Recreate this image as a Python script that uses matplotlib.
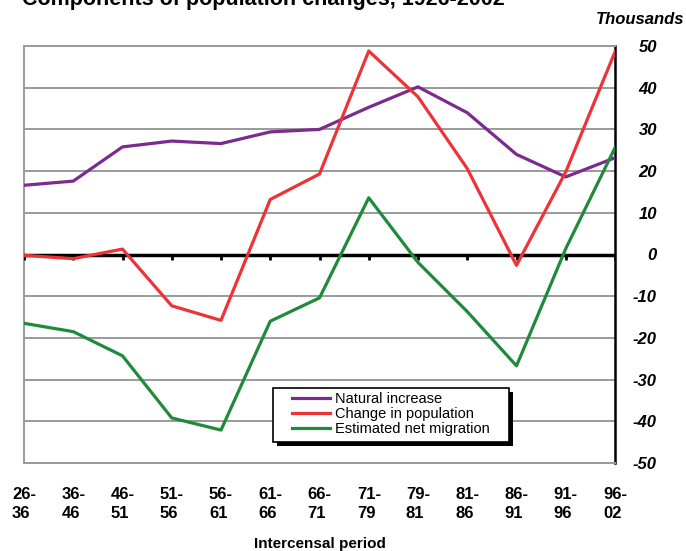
import matplotlib
matplotlib.use("Agg")
import matplotlib.pyplot as plt
from matplotlib.patches import Rectangle

plt.rcParams['font.family'] = ['Liberation Sans', 'DejaVu Sans']

periods = ["26-\n36", "36-\n46", "46-\n51", "51-\n56", "56-\n61", "61-\n66", "66-\n71",
           "71-\n79", "79-\n81", "81-\n86", "86-\n91", "91-\n96", "96-\n02"]
natural = [16.6, 17.6, 25.8, 27.2, 26.6, 29.4, 30.0, 35.3, 40.2, 34.0, 24.0, 18.6, 23.2]
change = [-0.2, -1.0, 1.3, -12.3, -15.8, 13.2, 19.3, 48.8, 37.8, 20.6, -2.6, 19.8, 48.6]
migration = [-16.5, -18.5, -24.3, -39.2, -42.1, -16.0, -10.4, 13.6, -1.9, -13.7, -26.7, 1.4, 25.6]

W, H = 686, 551
fig = plt.figure(figsize=(W / 100, H / 100), dpi=100)
ax = fig.add_axes([24 / W, 1 - 463 / H, (615 - 24) / W, (463 - 46) / H])

x = list(range(len(periods)))
ax.plot(x, natural, color="#7B2A8F", lw=2.3, label="Natural increase", zorder=4)
ax.plot(x, change, color="#EE3338", lw=2.3, label="Change in population", zorder=4)
ax.plot(x, migration, color="#1E8B3B", lw=2.3, label="Estimated net migration", zorder=4)

ax.set_xlim(0, len(periods) - 1)
ax.set_ylim(-50, 50)

# gridlines
for v in range(-50, 51, 10):
    if v != 0:
        ax.axhline(v, color="#9a9a9a", lw=1.4, zorder=1)
ax.axhline(0, color="black", lw=2.5, zorder=3)
for xi in x:
    ax.plot([xi, xi], [0, -1.2], color="black", lw=2, zorder=3, solid_capstyle="butt")

for s in ["left", "top", "bottom"]:
    ax.spines[s].set_color("#9a9a9a")
    ax.spines[s].set_linewidth(1.4)
ax.spines["right"].set_color("black")
ax.spines["right"].set_linewidth(1.8)

ax.yaxis.tick_right()
ax.set_yticks(range(-50, 51, 10))
ax.set_yticklabels([str(v) for v in range(-50, 51, 10)], fontsize=12, fontweight="bold",
                   fontstyle="italic")
ax.tick_params(axis="y", length=0, pad=0)
for t in ax.get_yticklabels():
    t.set_horizontalalignment("right")
    t.set_x(1.0 + 42 / 591)

ax.set_xticks(x)
ax.set_xticklabels(periods, fontsize=12, fontweight="bold", multialignment="left",
                   linespacing=1.35)
ax.tick_params(axis="x", length=0, pad=17)

fig.text(320 / W, 1 - 544 / H, "Intercensal period", ha="center", va="center", fontsize=11,
         fontweight="bold")
fig.text(684 / W, 1 - 19 / H, "Thousands", ha="right", va="center", fontsize=12,
         fontweight="bold", fontstyle="italic")
fig.text(22 / W, 1 - 5 / H, "Components of population changes, 1926-2002", ha="left",
         va="baseline", fontsize=15.5, fontweight="bold")

# legend box with a hard black shadow
bx0, by0, bx1, by1 = 273, 388, 509, 442
shadow = Rectangle(((bx0 + 4) / W, 1 - (by1 + 4) / H), (bx1 - bx0) / W, (by1 - by0) / H,
                   transform=fig.transFigure, facecolor="black", edgecolor="none",
                   clip_on=False, zorder=5)
box = Rectangle((bx0 / W, 1 - by1 / H), (bx1 - bx0) / W, (by1 - by0) / H,
                transform=fig.transFigure, facecolor="white", edgecolor="black", lw=1.2,
                clip_on=False, zorder=5.5)
ax.add_artist(shadow)
ax.add_artist(box)

leg = ax.legend(loc="upper left", bbox_to_anchor=((292 - 24) / 591, (463 - 392) / 417),
                fontsize=10.5, frameon=False, handlelength=2.6, handletextpad=0.35,
                labelspacing=0.08, borderpad=0, borderaxespad=0)
leg.set_zorder(6)

fig.savefig("out.png", dpi=100)
